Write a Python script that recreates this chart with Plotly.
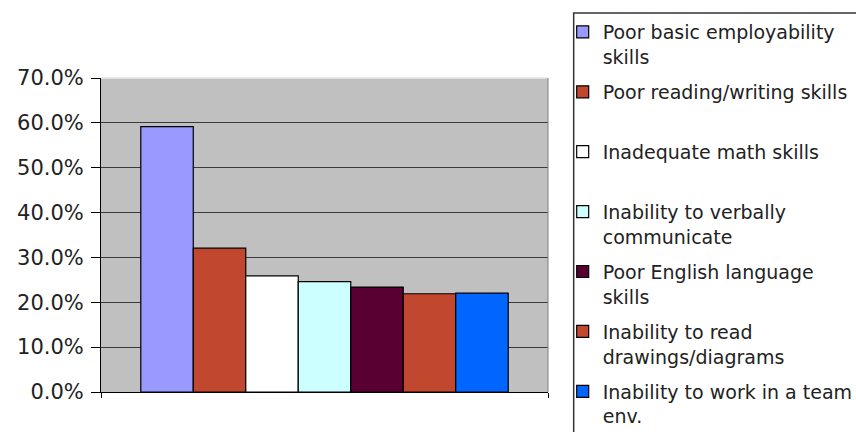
import plotly.graph_objects as go

names = [
    "Poor basic employability<br>skills",
    "Poor reading/writing skills<br>\u00a0",
    "Inadequate math skills<br>\u00a0",
    "Inability to verbally<br>communicate",
    "Poor English language<br>skills",
    "Inability to read<br>drawings/diagrams",
    "Inability to work in a team<br>env.",
]
values = [0.5915, 0.3207, 0.259, 0.246, 0.234, 0.219, 0.2205]
colors = ["#9999FF", "#C1472F", "#FFFFFF", "#CCFFFF", "#570031", "#C1472F", "#0066FF"]
y_ticks = [0, 0.1, 0.2, 0.3, 0.4, 0.5, 0.6, 0.7]

W, H = 856, 432
L, R, T, B = 101, 548.3, 78, 392.3
pw, ph = R - L, B - T

def px_x(x):
    return (x - L) / pw

def px_y(y):
    return (B - y) / ph

fig = go.Figure()
for n, v, c in zip(names, values, colors):
    fig.add_trace(go.Bar(
        x=[0], y=[v], name=n, legendgroup=n,
        marker=dict(color=c, line=dict(color="#000000", width=1.2)),
    ))

FONT = "DejaVu Sans"
fig.update_layout(
    width=W, height=H,
    margin=dict(l=L, r=W - R, t=T, b=H - B, pad=0, autoexpand=False),
    paper_bgcolor="#FFFFFF",
    plot_bgcolor="#C0C0C0",
    barmode="group", bargap=0.178, bargroupgap=0,
    font=dict(family=FONT, size=20, color="#222222"),
    showlegend=True,
    legend=dict(
        x=px_x(563), xanchor="left", y=px_y(13), yanchor="top",
        bgcolor="rgba(0,0,0,0)", borderwidth=0,
        font=dict(family=FONT, size=19, color="#222222"),
        valign="top", tracegroupgap=7.5, traceorder="grouped",
    ),
    xaxis=dict(
        range=[-0.5, 0.5], tickvals=[-0.5, 0.5], showticklabels=False,
        ticks="outside", ticklen=5, tickcolor="#000000", tickwidth=1,
        showline=True, linecolor="#000000", linewidth=1,
        showgrid=False, zeroline=False, fixedrange=True,
    ),
    yaxis=dict(
        range=[0, 0.7], tickvals=y_ticks, tickformat=".1%",
        ticks="outside", ticklen=9, tickcolor="#000000", tickwidth=1,
        showline=True, linecolor="#000000", linewidth=1,
        showgrid=True, gridcolor="#3A3A3A", gridwidth=1,
        zeroline=False, fixedrange=True, ticklabelstandoff=3,
        tickfont=dict(family=FONT, size=21, color="#222222"),
    ),
    shapes=[
        dict(type="rect", xref="paper", yref="paper",
             x0=px_x(574), x1=px_x(900), y0=px_y(460), y1=px_y(13),
             line=dict(color="#333333", width=1.5), fillcolor="#FFFFFF", layer="above"),
        dict(type="line", xref="paper", yref="paper",
             x0=0, x1=1, y0=1, y1=1, line=dict(color="#E6E6E6", width=1.5), layer="above"),
        dict(type="line", xref="paper", yref="paper",
             x0=1, x1=1, y0=0, y1=1, line=dict(color="#808080", width=1), layer="above"),
    ],
)
try:
    fig.update_layout(legend_maxheight=2000)
except Exception:
    pass

fig.write_html("out.html")
